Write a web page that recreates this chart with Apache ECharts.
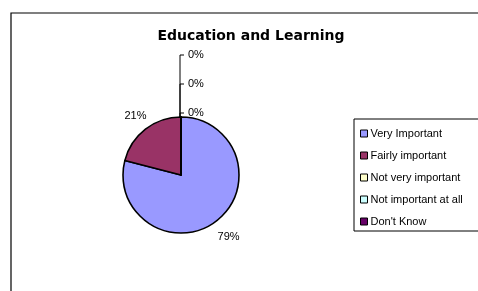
<!DOCTYPE html>
<html>
<head>
<meta charset="utf-8">
<script src="https://cdn.jsdelivr.net/npm/echarts@6/dist/echarts.min.js"></script>
<style>
  html, body { margin: 0; padding: 0; background: #fff; }
  #chart { width: 478px; height: 291px; }
</style>
</head>
<body>
<div id="chart"></div>
<script>
var categories = ['Very Important', 'Fairly important', 'Not very important', 'Not important at all', "Don't Know"];
var values = [79, 21, 0, 0, 0];
var colors = ['#9999FF', '#993366', '#FFFFCC', '#CCFFFF', '#660066'];

var cx = 181, cy = 175, r = 58;
var total = values.reduce(function (a, b) { return a + b; }, 0);

// mid angle of each slice, clockwise from 12 o'clock
var midAngles = [];
var cum = 0;
values.forEach(function (v) {
    midAngles.push((cum + v / 2) / total * Math.PI * 2);
    cum += v;
});
var zeroIdx = [];
values.forEach(function (v, i) { if (v === 0) zeroIdx.push(i); });

var mychart = echarts.init(document.getElementById('chart'));
mychart.setOption({
    animation: false,
    color: colors,
    graphic: [{
        type: 'rect',
        shape: { x: 11, y: 13, width: 500, height: 320 },
        style: { fill: 'none', stroke: '#000', lineWidth: 1.2 },
        silent: true
    }],
    title: {
        text: 'Education and Learning',
        left: 246,
        top: 24,
        textAlign: 'center',
        textStyle: { fontFamily: 'DejaVu Sans', fontWeight: 'bold', fontSize: 14, color: '#000' }
    },
    legend: {
        orient: 'vertical',
        left: 354,
        top: 119,
        width: 123,
        padding: [9, 20, 4, 6],
        itemGap: 11,
        itemWidth: 7,
        itemHeight: 7,
        icon: 'rect',
        borderColor: '#000',
        borderWidth: 1,
        itemStyle: { borderColor: '#000', borderWidth: 1 },
        textStyle: { fontFamily: 'Arial, Liberation Sans', fontSize: 11, color: '#000', padding: [0, 0, 0, -2] },
        data: categories
    },
    series: [{
        type: 'pie',
        center: [cx, cy],
        radius: [0, r],
        startAngle: 90,
        clockwise: true,
        avoidLabelOverlap: false,
        stillShowZeroSum: true,
        itemStyle: { borderColor: '#000', borderWidth: 1.6 },
        label: {
            show: true,
            position: 'outside',
            formatter: '{c}%',
            fontFamily: 'Arial, Liberation Sans',
            fontSize: 11,
            color: '#000'
        },
        labelLine: { show: false },
        emphasis: { disabled: true },
        data: categories.map(function (c, i) {
            return {
                name: c,
                value: values[i],
                labelLine: { show: values[i] === 0, lineStyle: { color: '#000', width: 1 } }
            };
        }),
        labelLayout: function (p) {
            var i = p.dataIndex;
            if (values[i] === 0) {
                var k = zeroIdx.indexOf(i);
                var y = 113 - k * 29;
                return {
                    x: cx + 7, y: y, align: 'left', verticalAlign: 'middle',
                    labelLinePoints: [[cx - 1, cy - r], [cx - 1, y], [cx + 3, y]]
                };
            }
            var a = midAngles[i];
            return {
                x: cx + 1 + Math.sin(a) * 76,
                y: cy + 1.5 - Math.cos(a) * 76,
                align: 'center',
                verticalAlign: 'middle'
            };
        }
    }]
});
window.addEventListener('resize', function () { mychart.resize(); });
</script>
</body>
</html>
